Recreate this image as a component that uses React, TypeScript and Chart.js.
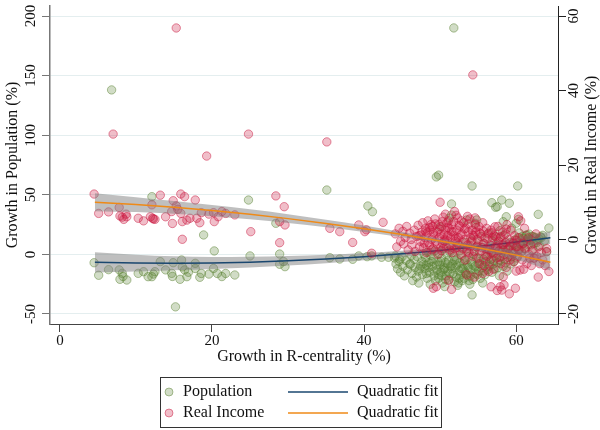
import React, { useEffect, useRef } from 'react';
import { Chart, registerables } from 'chart.js';
Chart.register(...registerables);

// ---- Data (x = Growth in R-centrality %, y = growth %) ----
const populationPoints: [number, number][] = [
  [6.8,138],[51.8,190],[15.2,-44],[49.5,65],[49.8,66.5],[54.2,57.4],[60.2,57.4],[35.1,54],[24.8,45.6],[12.1,48.4],
  [4.5,-7],[5.1,-17.5],[6.4,-12.8],[7.8,-13],[7.9,-20.9],[8.2,-15.9],[8.3,-18.6],[8.8,-21.5],[10.3,-15.9],[11.0,-14.5],
  [11.6,-18.7],[12.1,-18.7],[12.3,-16.5],[12.5,-14.5],[13.2,-6.1],[13.9,-13],[14.7,-15.9],[14.8,-18.5],[14.9,-7],[15.8,-20.9],
  [16.0,-4.7],[16.1,-10.5],[16.4,-13],[16.7,-18.7],[16.9,-15],[17.8,-7.5],[17.8,-11.8],[18.4,-19.2],[18.6,-16],[18.9,16.3],
  [19.6,-16.5],[20.2,-11.8],[20.3,2.9],[20.7,-16],[21.3,-18.6],[21.8,-16],[23.0,-17.3],[25.0,-1.3],[28.4,26.1],[28.9,0.3],
  [28.9,-8.3],[29.6,-10.3],[29.4,-6],[35.5,-2.8],[36.8,-3.9],[38.5,-4.1],[39.3,-1.3],[40.5,40.6],[41.1,35.8],[51.5,42.3],
  [56.8,43.4],[58.1,45.6],[57.5,40],[57.3,39.5],[59.1,42.9],[58.7,31.6],[58.3,27.4],[60.3,29.4],[60.0,26.1],[62.9,33.6],
  [64.3,22.1],[51.5,33],[51.2,30.4],[50.0,23.2],[53.5,28.9],[54.8,28.9],[54.6,26.1],[46.1,-8.3],[54.2,-34],[62.3,14.8],
  [61.4,16.3],[61.8,12],[60.9,13.5],[63.2,14.9],[64.0,2.3],[40.4,-1.9],[41.0,-1.3],[42.3,-2.4],[43.2,-2.4],[44.7,-4.1],
  [44.1,-1.3],[47.4,-9.7],[48.2,-8.9],
  [44.0,-3],[44.2,-8],[44.4,-12],[44.6,-6],[44.8,-15],[45.0,-2],[45.1,-10],[45.3,-18],[45.5,-5],[45.7,-13],
  [46.0,-8],[46.2,-1],[46.3,-16],[46.4,-22],[46.6,-4],[46.7,-11],[46.9,-19],[47.0,-2],[47.1,-14],[47.2,-24],
  [47.6,-6],[47.7,-17],[47.9,0],[48.0,-12],[48.1,-3],[48.3,-20],[48.4,2],[48.5,-7],[48.6,-15],[48.7,-25],
  [48.8,-1],[49.0,-10],[49.1,-4],[49.2,-18],[49.3,3],[49.4,-22],[49.6,-13],[49.7,-6],[49.8,-20],[49.9,1],
  [50.0,-9],[50.1,-15],[50.2,-3],[50.3,-24],[50.4,5],[50.5,-11],[50.6,-12],[50.7,-7],[50.8,-18],[50.9,0],
  [50.6,-27],[51.0,-14],[51.1,-5],[51.2,-21],[51.3,2],[51.4,-10],[51.6,-8],[51.7,-16],[51.8,-2],[51.9,-23],
  [51.5,6],[52.0,-11],[52.1,-19],[52.2,-4],[52.3,-26],[52.4,8],[52.5,-14],[52.6,-7],[52.7,-17],[52.8,-1],
  [52.9,-22],[52.6,3],[53.0,-12],[53.1,-20],[53.2,-5],[53.3,-15],[53.4,10],[53.6,-9],[53.7,-18],[53.8,-2],
  [53.9,-25],[53.5,5],[54.0,-13],[54.1,-6],[54.3,-21],[54.4,0],[54.2,12],[54.6,-10],[54.7,-16],[54.8,-3],
  [54.9,7],[55.0,-8],[55.1,-14],[55.2,2],[55.3,-20],[55.4,15],[55.6,-11],[55.7,-4],[55.8,9],[55.9,-17],
  [56.0,-6],[56.2,-13],[56.3,4],[56.4,18],[56.5,-9],[56.7,1],[56.8,-15],[56.9,11],[57.0,-5],[57.1,6],
  [57.2,-12],[57.4,14],[57.6,-7],[57.7,3],[57.8,-18],[57.9,20],[58.0,-2],[58.2,8],[58.3,-10],[58.4,16],
  [58.5,-4],[58.6,5],[58.8,-14],[59.0,0],[59.2,10],[59.3,-8],[59.4,22],[59.5,3],[59.7,-6],[59.8,12],
  [60.0,6],[60.1,-3],[60.2,14],[60.4,18],[60.5,9],[60.7,2],[60.8,15],[61.0,11],[61.1,5],[61.3,16],
  [61.5,13],[61.6,8],[61.7,17],[62.0,12],[62.1,15],[62.2,4],[62.5,14],[62.7,10],[63.0,13],[63.1,7],
  [63.5,16],[63.7,11],
  [47.3,-12],[47.8,-8],[48.2,-16],[48.5,-11],[48.9,-6],[49.2,-14],[49.5,-9],[49.8,-17],[50.1,-6],[50.4,-13],
  [50.7,-21],[51.0,-8],[51.3,-16],[51.6,-12],[51.9,-5],[52.2,-9],[52.5,-20],[52.8,-12],[53.1,-8],[53.4,-16],
  [53.7,-11],[54.0,-18],[54.3,-9],[54.6,-13],[54.9,-17],[55.2,-6],[55.5,-9],[55.8,-14],[56.1,-2],[56.4,-10],
  [56.7,-4],[57.0,-8],[57.3,-1],[57.6,-11],[57.9,-5],[58.2,3],[58.6,-7],[59.0,5],[59.4,-2],[59.8,8],
  [60.3,4],[60.9,9],[61.4,11],[62.3,9],[62.8,12],[63.3,14],[52.4,-24],[53.8,-22],[55.6,-24],[50.2,-18]
];

const incomePoints: [number, number][] = [
  [15.3,56.8],[7.0,28.3],[24.8,28.3],[19.3,22.4],[35.1,26.2],[54.3,44.2],
  [4.5,12.2],[5.1,7.0],[6.4,7.4],[7.8,8.6],[7.9,6.3],[8.2,6.0],[8.4,5.4],[8.8,6.1],[8.7,6.8],[10.3,5.7],
  [11.0,5.0],[12.1,9.3],[11.9,6.1],[12.3,5.5],[12.5,5.4],[12.2,5.7],[13.2,11.9],[13.9,6.1],[14.7,7.5],[14.9,10.4],
  [14.8,4.3],[15.3,9.0],[15.5,8.1],[15.9,12.2],[16.4,11.5],[16.1,0.05],[15.9,7.0],[16.1,4.8],[16.7,5.2],[17.1,5.7],
  [17.8,10.6],[18.0,5.7],[18.4,4.5],[18.6,7.2],[19.6,6.8],[20.2,7.2],[20.3,4.8],[20.8,6.1],[21.3,7.5],[21.8,7.0],
  [23.0,6.6],[25.1,2.1],[28.4,11.7],[29.5,8.8],[28.9,4.8],[29.6,3.9],[28.9,-0.86],
  [35.5,3.0],[36.8,2.1],[38.5,-0.8],[39.3,3.9],[40.3,2.6],[40.1,2.1],[42.5,4.6],[41.0,-3.7],[50.0,10.0],[51.1,-11],
  [51.5,-13.4],[49.1,-13.1],[49.5,-12.7],[60.3,6.1],[64.0,-2.4],[64.0,-3.3],[64.3,-8.6],[62.9,-10.1],[59.1,-14.6],[59.9,-13.1],
  [57.9,-12.7],[58.1,-13.6],[56.7,-12.7],[57.5,-13.7],[58.3,-10],[58.4,-12.2],[54.5,-10.1],[53.5,-9.5],[55.6,-9.1],[56.4,-8.6],
  [60.5,-8.2],[61.0,-8.0],[61.8,-5],[62.3,-5],[46.0,1.7],[57.2,3.4],[58.7,2.8],
  [44.1,1.5],[44.3,-2.0],[44.6,3.0],[44.8,-0.5],[45.1,2.2],[45.2,-1.2],[45.4,0.5],[45.6,3.5],[45.8,-2.8],[46.2,0],
  [46.3,-1.5],[46.6,2.5],[46.7,-3.2],[46.9,0.8],[47.1,3.8],[47.2,1.0],[47.3,-2.0],[47.4,-0.5],[47.6,2.0],[47.7,4.5],
  [47.9,-1.0],[48.0,0.5],[48.1,3.0],[48.2,-3.5],[48.3,1.8],[48.4,5.0],[48.6,-1.5],[48.7,2.5],[48.8,4.0],[48.9,0],
  [49.0,3.5],[49.1,-2.5],[49.2,1.0],[49.3,5.5],[49.4,-0.5],[49.6,2.0],[49.7,-4.0],[49.8,4.0],[49.9,0.5],[50.1,1.5],
  [50.2,3.5],[50.3,-1.0],[50.4,6.0],[50.2,-3.0],[50.6,0],[50.7,2.5],[50.8,-2.0],[50.9,4.5],[50.6,-0.5],[51.0,1.0],
  [51.2,3.0],[51.3,-1.5],[51.4,0.5],[51.1,5.0],[51.6,-3.5],[51.7,2.0],[51.8,1.0],[51.9,-2.5],[51.5,4.0],[52.0,-0.5],
  [52.1,6.5],[52.2,2.5],[52.3,-1.0],[52.4,0.5],[52.6,3.5],[52.7,-4.0],[52.8,5.0],[52.9,1.5],[53.0,-2.5],[53.1,4.5],
  [53.2,0],[53.3,-5.5],[53.4,3.0],[53.6,-1.5],[53.7,2.0],[53.8,-3.5],[53.9,5.5],[54.0,0.5],[54.1,-0.5],[54.2,2.5],
  [54.3,-4.5],[54.4,1.0],[54.6,4.0],[54.7,2.0],[54.8,-2.0],[54.9,0],[55.0,-5.0],[55.1,3.5],[55.2,-6.5],[55.3,1.5],
  [55.4,-3.0],[55.6,4.5],[55.7,-1.0],[55.8,-7.0],[55.9,0.5],[56.0,-2.5],[56.1,3.0],[56.2,-4.5],[56.3,1.5],[56.5,-6.0],
  [56.6,-1.5],[56.7,2.5],[56.8,-3.5],[56.9,0.5],[57.0,-8.0],[57.1,1.0],[57.3,-2.0],[57.4,-5.0],[57.6,3.5],[57.7,-0.5],
  [57.8,-3.0],[57.9,0.5],[58.0,-6.5],[58.2,2.0],[58.3,-1.5],[58.4,-4.0],[58.6,1.5],[58.7,-7.5],[58.8,4.0],[58.9,-2.5],
  [59.1,0],[59.2,-5.5],[59.3,2.5],[59.5,-3.5],[59.6,-1.0],[59.7,-6.0],[59.8,1.0],[60.0,-8.5],[60.1,-2.0],[60.2,-4.5],
  [60.4,0.5],[60.6,5.0],[60.7,-3.0],[60.8,-5.5],[60.9,-1.0],[61.1,3.0],[61.2,-2.5],[61.4,-6.5],[61.6,0.5],[61.7,-4.0],
  [61.9,-1.5],[62.0,-7.0],[62.1,-3.0],[62.4,-5.0],[62.6,1.5],[62.7,-4.5],[62.9,-2.0],[63.1,-6.5],[63.3,-3.5],[63.5,-5.5],
  [63.8,-7.0],
  [47.5,1.2],[47.8,-2.2],[48.1,2.2],[48.4,-0.8],[48.6,3.2],[48.9,-2.8],[49.1,1.8],[49.4,4.2],[49.6,-1.2],[49.9,2.8],
  [50.1,-2.2],[50.3,4.8],[50.5,1.2],[50.8,-0.2],[51.0,3.2],[51.3,-2.8],[51.5,2.2],[51.8,4.8],[52.0,0.2],[52.2,-2.2],
  [52.5,3.8],[52.7,1.2],[53.0,-0.8],[53.2,2.8],[53.5,-3.2],[53.7,4.2],[54.0,-1.8],[54.2,1.2],[54.5,-3.2],[54.7,3.2],
  [55.0,-0.5],[55.2,1.8],[55.5,-2.2],[55.7,2.2],[56.0,-4.2],[56.2,0.2],[56.5,-2.8],[56.8,1.8],[57.0,-3.8],[57.3,0.8],
  [57.5,-1.8],[57.8,-4.8],[58.0,0.8],[58.3,-2.8],[58.6,-0.8],[58.9,-4.8],[59.2,-1.8],[59.6,-3.8],[60.0,-0.2],[60.4,-2.8],
  [52.3,5.8],[53.6,6.2],[50.7,6.8],[51.9,7.5],[54.6,5.8]
];

// Quadratic fit lines and confidence bands
const fitX = [4.6, 10, 15, 20, 25, 30, 35, 40, 45, 50, 55, 60, 64.5];
const popFit = [-6.6, -7.28, -7.46, -7.21, -6.53, -5.42, -3.87, -1.9, 0.5, 3.34, 6.6, 10.3, 14.0];
const popFitHi = [1.9, -0.28, -1.66, -2.21, -2.03, -1.42, -0.37, 1.1, 3.1, 5.74, 9.2, 13.8, 19.2];
const popFitLo = [-15.1, -14.28, -13.26, -12.21, -11.03, -9.42, -7.37, -4.9, -2.1, 0.94, 4.0, 6.8, 8.8];
const incFit = [10.0, 9.36, 8.63, 7.76, 6.75, 5.6, 4.31, 2.89, 1.32, -0.38, -2.22, -4.2, -6.1];
const incFitHi = [12.4, 11.36, 10.33, 9.26, 8.1, 6.8, 5.31, 3.74, 2.02, 0.22, -1.52, -3.0, -3.9];
const incFitLo = [7.6, 7.36, 6.93, 6.26, 5.4, 4.4, 3.31, 2.04, 0.62, -0.98, -2.92, -5.4, -8.3];

const xTicks = [0, 20, 40, 60];
const popTicks = [-50, 0, 50, 100, 150, 200];
const incTicks = [-20, 0, 20, 40, 60];

const FONT = '"Liberation Serif", "Times New Roman", serif';
const GREEN_FILL = 'rgba(90,130,50,0.28)';
const GREEN_EDGE = 'rgba(90,130,50,0.48)';
const PINK_FILL = 'rgba(200,20,60,0.28)';
const PINK_EDGE = 'rgba(200,20,60,0.48)';
const BLUE = '#1a476f';
const ORANGE = '#ef8a17';
const BAND = 'rgba(128,128,128,0.5)';

export default function App() {
  const ref = useRef<HTMLCanvasElement>(null);
  useEffect(() => {
    document.body.style.margin = '0';
    const canvas = ref.current;
    if (!canvas) return;
    const pts = (arr: [number, number][]) => arr.map(([x, y]) => ({ x, y }));
    const line = (ys: number[]) => fitX.map((x, i) => ({ x, y: ys[i] }));

    const customText = {
      id: 'customText',
      afterDraw(chart: any) {
        const c = chart.ctx as CanvasRenderingContext2D;
        const ya = chart.scales.y;
        const yb = chart.scales.y2;
        const ca = chart.chartArea;
        c.save();
        c.fillStyle = '#111';
        c.font = `15px ${FONT}`;
        c.textAlign = 'center';
        c.textBaseline = 'middle';
        const rot = (t: string, x: number, y: number) => {
          c.save();
          c.translate(x, y);
          c.rotate(-Math.PI / 2);
          c.fillText(t, 0, 0);
          c.restore();
        };
        popTicks.forEach(v => rot(String(v), 31, ya.getPixelForValue(v)));
        incTicks.forEach(v => rot(String(v), 574, yb.getPixelForValue(v)));
        c.font = `16px ${FONT}`;
        const cy = (ca.top + ca.bottom) / 2;
        rot('Growth in Population (%)', 13, cy);
        rot('Growth in Real Income (%)', 592, cy);
        c.fillText('Growth in R-centrality (%)', (ca.left + ca.right) / 2, 357);

        // legend
        c.strokeStyle = '#333';
        c.lineWidth = 1;
        c.strokeRect(160.5, 377.5, 281, 50);
        const rows = [392, 413];
        const marks = [[GREEN_FILL, GREEN_EDGE, 'Population', BLUE], [PINK_FILL, PINK_EDGE, 'Real Income', ORANGE]];
        marks.forEach((m, i) => {
          const y = rows[i];
          c.beginPath();
          c.arc(169, y, 4, 0, Math.PI * 2);
          c.fillStyle = m[0];
          c.fill();
          c.strokeStyle = m[1];
          c.stroke();
          c.fillStyle = '#111';
          c.textAlign = 'left';
          c.fillText(m[2], 183, y);
          c.beginPath();
          c.moveTo(288, y);
          c.lineTo(348, y);
          c.strokeStyle = m[3];
          c.lineWidth = 1.5;
          c.stroke();
          c.lineWidth = 1;
          c.fillText('Quadratic fit', 357, y);
        });
        c.restore();
      },
    };

    const chart = new Chart(canvas, {
      type: 'scatter',
      data: {
        datasets: [
          { type: 'line', label: 'incFit', data: line(incFit), yAxisID: 'y2', borderColor: ORANGE, borderWidth: 1.5, pointRadius: 0, fill: false, cubicInterpolationMode: 'monotone', order: 1 } as any,
          { type: 'line', label: 'incHi', data: line(incFitHi), yAxisID: 'y2', borderWidth: 0, borderColor: 'rgba(0,0,0,0)', pointRadius: 0, fill: '+1', backgroundColor: BAND, cubicInterpolationMode: 'monotone', order: 2 } as any,
          { type: 'line', label: 'incLo', data: line(incFitLo), yAxisID: 'y2', borderWidth: 0, borderColor: 'rgba(0,0,0,0)', pointRadius: 0, fill: false, cubicInterpolationMode: 'monotone', order: 2 } as any,
          { type: 'scatter', label: 'Real Income', data: pts(incomePoints), yAxisID: 'y2', pointRadius: 4.2, pointBorderWidth: 1, backgroundColor: PINK_FILL, borderColor: PINK_EDGE, order: 3 } as any,
          { type: 'line', label: 'popFit', data: line(popFit), yAxisID: 'y', borderColor: BLUE, borderWidth: 1.5, pointRadius: 0, fill: false, cubicInterpolationMode: 'monotone', order: 4 } as any,
          { type: 'line', label: 'popHi', data: line(popFitHi), yAxisID: 'y', borderWidth: 0, borderColor: 'rgba(0,0,0,0)', pointRadius: 0, fill: '+1', backgroundColor: BAND, cubicInterpolationMode: 'monotone', order: 5 } as any,
          { type: 'line', label: 'popLo', data: line(popFitLo), yAxisID: 'y', borderWidth: 0, borderColor: 'rgba(0,0,0,0)', pointRadius: 0, fill: false, cubicInterpolationMode: 'monotone', order: 5 } as any,
          { type: 'scatter', label: 'Population', data: pts(populationPoints), yAxisID: 'y', pointRadius: 4.2, pointBorderWidth: 1, backgroundColor: GREEN_FILL, borderColor: GREEN_EDGE, order: 6 } as any,
        ],
      },
      options: {
        responsive: false,
        animation: false,
        layout: { padding: { top: 6, bottom: 60, left: 0, right: 0 } },
        plugins: { legend: { display: false }, tooltip: { enabled: false } },
        scales: {
          x: {
            type: 'linear',
            min: -1.3,
            max: 65.5,
            afterBuildTicks: (s: any) => { s.ticks = xTicks.map(v => ({ value: v })); },
            afterFit: (s: any) => { s.height = 46; },
            grid: { drawOnChartArea: false, drawTicks: true, tickLength: 8, color: '#444' },
            border: { color: '#444', width: 1 },
            ticks: { font: { family: FONT, size: 15 }, color: '#111', padding: 0, maxRotation: 0, minRotation: 0 },
          },
          y: {
            type: 'linear',
            position: 'left',
            min: -58.4,
            max: 208.4,
            afterBuildTicks: (s: any) => { s.ticks = popTicks.map(v => ({ value: v })); },
            afterFit: (s: any) => { s.width = 50; },
            grid: { color: '#e4eeef', tickColor: '#777', tickLength: 8, drawTicks: true },
            border: { color: '#777', width: 1.5 },
            ticks: { display: false },
          },
          y2: {
            type: 'linear',
            position: 'right',
            min: -22.7,
            max: 62.7,
            afterBuildTicks: (s: any) => { s.ticks = incTicks.map(v => ({ value: v })); },
            afterFit: (s: any) => { s.width = 42; },
            grid: { drawOnChartArea: false, tickColor: '#222', tickLength: 8, drawTicks: true },
            border: { color: '#222', width: 1 },
            ticks: { display: false },
          },
        },
      } as any,
      plugins: [customText],
    });
    return () => chart.destroy();
  }, []);
  return (
    <div style={{ width: 600, height: 430 }}>
      <canvas ref={ref} width={600} height={430} />
    </div>
  );
}
